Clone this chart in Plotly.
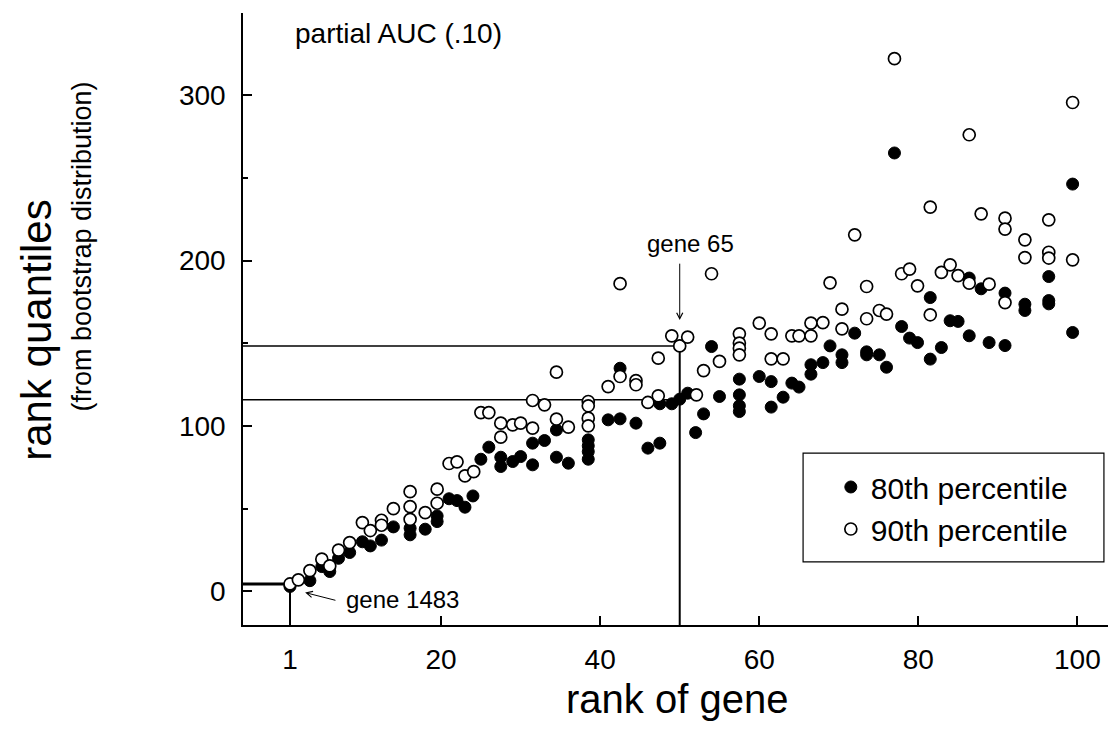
import plotly.graph_objects as go

# 80th percentile (filled) - rank of gene, rank quantile
p80_rank = [1, 3.5, 5.0, 6.0, 7.1, 8.5, 10.1, 11.1, 12.5, 14.0, 16.1, 16.1, 18.0, 19.5, 19.5,
            21.0, 22.0, 23.0, 24.0, 25.0, 26.0, 27.5, 27.5, 29.0, 30.0, 31.5, 31.5, 33.0, 34.5, 34.5,
            36.0, 38.5, 38.5, 38.5, 38.5, 41.0, 42.5, 42.5, 44.5, 46.0, 47.5, 47.5, 49.0, 50, 51,
            52, 53, 54, 55, 57.5, 57.5, 57.5, 57.5, 60, 61.5, 61.5, 63, 64.1, 65, 66.5, 66.5, 68,
            68.9, 70.4, 70.4, 72.0, 73.5, 73.5, 75.1, 76.0, 77.0, 77.9, 78.9, 79.9, 81.5, 81.5,
            82.9, 84, 85, 86.4, 86.4, 87.9, 88.9, 90.9, 90.9, 93.4, 93.4, 96.4, 96.4, 96.4, 99.4, 99.4]
p80_val = [3, 6.5, 15, 12, 20, 23.5, 30, 27.5, 31, 39, 38.2, 34.2, 37.6, 45.6, 42.2,
           56, 54.9, 50.9, 57.7, 79.9, 87.2, 81.1, 75.5, 78.5, 81.5, 89.6, 76.5, 91.2, 97.6, 81.1,
           77.5, 91.6, 88, 84.5, 79.9, 103.7, 134.9, 104.3, 101.7, 86.6, 89.6, 113.4, 113.4, 116.2, 119.8,
           96, 107.3, 148, 117.8, 128.3, 118.8, 112.2, 108.7, 129.9, 126.8, 111.4, 117.4, 125.9, 123.5, 137, 131.3, 138.3,
           148.4, 143, 138.3, 156.1, 144.8, 143, 143, 135.5, 265, 160.1, 153.1, 150.4, 177.6, 140.4,
           147.4, 163.6, 163.2, 189.4, 154.5, 182.9, 150.4, 180.3, 148.6, 173.6, 169.8, 190.3, 175.8, 173.8, 246.2, 156.5]

# 90th percentile (open)
p90_rank = [1, 2.05, 3.5, 5.0, 6.0, 7.1, 8.5, 10.1, 11.1, 12.5, 12.5, 14.0, 16.1, 16.1, 16.1, 18.0,
            19.5, 19.5, 21.0, 22.0, 23.0, 24.1, 25.0, 26.0, 27.5, 27.5, 29.0, 30.0, 31.5, 31.5, 33.0,
            34.5, 34.5, 36.0, 38.5, 38.5, 38.5, 38.5, 41.0, 42.5, 42.5, 44.5, 44.5, 46.0, 47.3, 47.3,
            49.0, 50, 51, 52.1, 53, 54, 55, 57.5, 57.5, 57.5, 57.5, 60, 61.5, 61.5, 63, 64.1, 65,
            66.5, 66.5, 68, 68.9, 70.4, 70.4, 72.0, 73.5, 73.5, 75.1, 76.0, 77.0, 77.9, 78.9, 79.9,
            81.5, 81.5, 82.9, 84, 85, 86.4, 86.4, 87.9, 88.9, 90.9, 90.9, 90.9, 93.4, 93.4,
            96.4, 96.4, 96.4, 99.4, 99.4]
p90_val = [4.5, 7.0, 12.6, 19.5, 15.4, 25, 29.5, 41.6, 36.8, 43, 40, 50, 60.3, 51.3, 43.6, 47.6,
           61.8, 53.3, 77.3, 78.3, 69.8, 72.4, 108.1, 108.1, 101.7, 93.2, 100.7, 101.7, 115.4, 98.7, 112.8,
           132.5, 104.1, 99.3, 114.8, 112.2, 104.7, 100.1, 123.8, 186, 129.9, 127.4, 124.9, 114.2, 141, 118.2,
           154.5, 148.4, 153.7, 118.8, 133.5, 192, 139, 155.7, 150.1, 147, 143, 162.2, 155.7, 140.6, 140.6, 154.5, 154.5,
           162.2, 154.5, 162.5, 186.5, 170.6, 158.7, 215.5, 184.3, 164.8, 169.8, 167.6, 322, 192, 194.8, 184.7,
           232.3, 167.2, 192.8, 197.4, 190.9, 276, 186.3, 228.2, 185.7, 225.6, 219, 174.6, 212.5, 201.8,
           224.6, 205, 201.5, 295.5, 200.4]

x_ticks = [1, 20, 40, 60, 80, 100]
y_ticks = [0, 100, 200, 300]
y_minor = [50, 150, 250]

XMIN, XMAX = -4.91, 104.1
YMIN, YMAX = -20.3, 349.6

# highlighted genes: (rank, 80th quantile, 90th quantile)
gene1483 = (1, 4.5)
gene65 = (50, 115.8, 148.4)

FONT = "Liberation Sans, Arial, sans-serif"

fig = go.Figure()
fig.add_trace(go.Scatter(x=p80_rank, y=p80_val, mode="markers", name="80th percentile",
                         marker=dict(symbol="circle", size=12, color="black",
                                     line=dict(color="black", width=1))))
fig.add_trace(go.Scatter(x=p90_rank, y=p90_val, mode="markers", name="90th percentile",
                         marker=dict(symbol="circle", size=12, color="white",
                                     line=dict(color="black", width=1.7))))

line = dict(color="black", width=1.5)
fig.add_shape(type="line", x0=XMIN, x1=gene1483[0], y0=gene1483[1], y1=gene1483[1],
              line=dict(color="black", width=3), layer="below")
fig.add_shape(type="line", x0=gene1483[0], x1=gene1483[0], y0=YMIN, y1=gene1483[1],
              line=dict(color="black", width=2), layer="below")
fig.add_shape(type="line", x0=XMIN, x1=gene65[0], y0=gene65[2], y1=gene65[2], line=line, layer="below")
fig.add_shape(type="line", x0=XMIN, x1=gene65[0], y0=gene65[1], y1=gene65[1], line=line, layer="below")
fig.add_shape(type="line", x0=gene65[0], x1=gene65[0], y0=YMIN, y1=gene65[2],
              line=dict(color="black", width=2), layer="below")

# legend frame
fig.add_shape(type="rect", xref="paper", yref="paper", x0=0.646, x1=0.993, y0=0.103, y1=0.281,
              line=dict(color="black", width=1.2), fillcolor="rgba(0,0,0,0)")

fig.add_annotation(x=50, y=164, ax=50, ay=199, axref="x", ayref="y", xref="x", yref="y",
                   showarrow=True, arrowhead=5, arrowsize=1.2, arrowwidth=1, arrowcolor="black", text="")
fig.add_annotation(x=51.3, y=210, text="gene 65", showarrow=False, xanchor="center", yanchor="middle",
                   font=dict(family=FONT, size=24, color="black"))
fig.add_annotation(x=2.9, y=-0.7, ax=6.9, ay=-5.6, axref="x", ayref="y", xref="x", yref="y",
                   showarrow=True, arrowhead=5, arrowsize=1.2, arrowwidth=1, arrowcolor="black", text="")
fig.add_annotation(x=7.8, y=-5.1, text="gene 1483", showarrow=False, xanchor="left", yanchor="middle",
                   font=dict(family=FONT, size=24, color="black"))
fig.add_annotation(x=1.4, y=337, text="partial AUC (.10)", showarrow=False, xanchor="left", yanchor="middle",
                   font=dict(family=FONT, size=28, color="black"))

# axis titles
fig.add_annotation(xref="paper", yref="paper", x=-0.239, y=0.482, text="rank quantiles",
                   xanchor="center", yanchor="middle",
                   textangle=-90, showarrow=False, font=dict(family=FONT, size=42, color="black"))
fig.add_annotation(xref="paper", yref="paper", x=-0.186, y=0.618, text="(from bootstrap distribution)",
                   xanchor="center", yanchor="middle",
                   textangle=-90, showarrow=False, font=dict(family=FONT, size=27, color="black"))
fig.add_annotation(xref="paper", yref="paper", x=0.5, y=-0.121, text="rank of gene",
                   xanchor="center", yanchor="middle",
                   showarrow=False, font=dict(family=FONT, size=40, color="black"))

# the page body adds an 8px offset, so the figure is 8px smaller than the window
fig.update_layout(
    width=1108, height=737, autosize=False,
    margin=dict(l=235, r=6, t=5, b=120),
    plot_bgcolor="white", paper_bgcolor="white",
    font=dict(family=FONT, size=28, color="black"),
    showlegend=True,
    legend=dict(x=0.678, y=0.268, xanchor="left", yanchor="top",
                borderwidth=0, bgcolor="rgba(0,0,0,0)",
                font=dict(family=FONT, size=30, color="black"),
                itemsizing="trace", tracegroupgap=0),
    xaxis=dict(range=[XMIN, XMAX], tickvals=x_ticks, ticktext=[str(v) for v in x_ticks],
               ticks="inside", ticklen=9, tickwidth=1.5, tickcolor="black",
               showline=True, linecolor="black", linewidth=1.5, mirror=False,
               showgrid=False, zeroline=False, ticklabelstandoff=9,
               tickfont=dict(family=FONT, size=28)),
    yaxis=dict(range=[YMIN, YMAX], tickvals=y_ticks,
               ticks="inside", ticklen=9, tickwidth=1.5, tickcolor="black",
               minor=dict(tickvals=y_minor, ticks="inside", ticklen=5, tickwidth=1.5, tickcolor="black"),
               showline=True, linecolor="black", linewidth=1.5, mirror=False,
               showgrid=False, zeroline=False, ticklabelstandoff=10,
               tickfont=dict(family=FONT, size=28)),
)

fig.write_html("out.html")
